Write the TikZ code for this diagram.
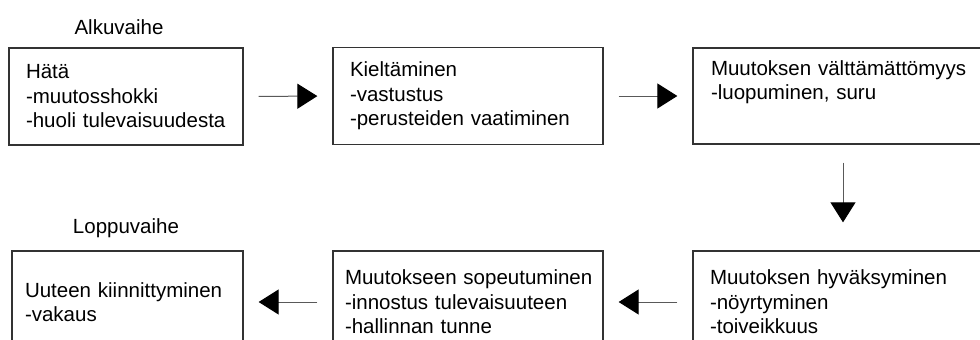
\documentclass[tikz,border=0pt]{standalone}
\usepackage{fontspec}
\setmainfont{Liberation Sans}
\usetikzlibrary{arrows.meta}

\begin{document}
\begin{tikzpicture}[x=1pt,y=-1pt,
  every node/.style={font=\fontsize{20.5}{24.5}\selectfont},
  phase/.style={draw=black!80, line width=1.3pt, align=left, inner ysep=0pt,
    minimum height=#1, anchor=center},
  phase/.default=97pt,
  caption/.style={inner sep=0pt},
  flow/.style={draw=black!65, line width=1pt,
    -{Triangle[length=20pt,width=25pt,color=black]},
    shorten <=15pt, shorten >=15pt}
]
\useasboundingbox (0,0) rectangle (980,340);
\clip (0,0) rectangle (980,340);

% phase labels
\node[caption] (start) at (119,27) {Alkuvaihe};
\node[caption] (end) at (126,228) {Loppuvaihe};

% upper row
\node[phase, inner xsep=17pt, text width=200pt] (b1) at (126,96.5)
  {Hätä\\-muutosshokki\\-huoli tulevaisuudesta};
\node[phase, inner xsep=17pt, text width=236pt] (b2) at (468,96)
  {Kieltäminen\\-vastustus\\-perusteiden vaatiminen};
\node[phase=96pt, inner xsep=18pt, text width=264pt] (b3) at (843,96)
  {Muutoksen välttämättömyys\\-luopuminen, suru\\\strut};

% lower row
\node[phase=102pt, inner xsep=17pt, text width=266pt] (b6) at (843,302)
  {Muutoksen hyväksyminen\\-nöyrtyminen\\-toiveikkuus};
\node[phase=102pt, inner xsep=12pt, text width=246pt] (b5) at (468,302)
  {\mbox{Muutokseen sopeutuminen}\\-innostus tulevaisuuteen\\-hallinnan tunne};
\node[phase=102pt, inner xsep=13pt, text width=205pt] (b4) at (127.5,302)
  {Uuteen kiinnittyminen\\-vakaus};

% transitions
\draw[flow] (b1.east) -- (b2.west);
\draw[flow] (b2.east) -- (b3.west);
\draw[flow, shorten <=18pt, shorten >=28pt] (b3.south) -- (b6.north);
\draw[flow] (b6.west) -- (b5.east);
\draw[flow] (b5.west) -- (b4.east);
\end{tikzpicture}
\end{document}
